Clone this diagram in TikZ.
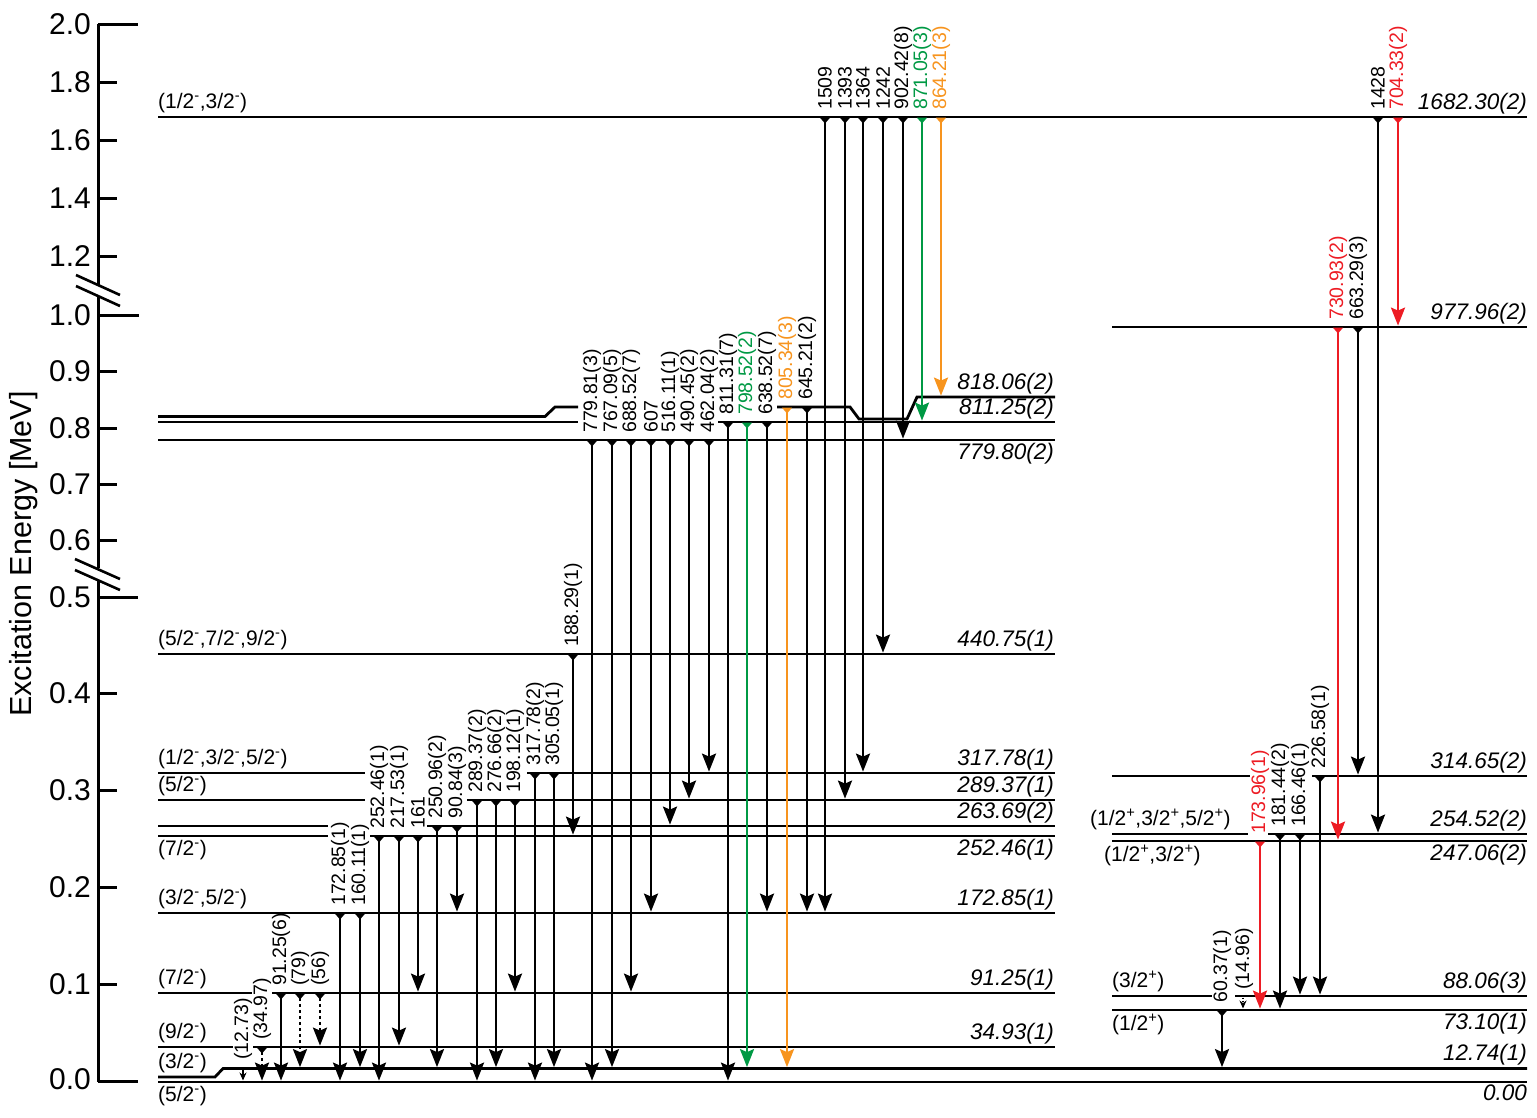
\documentclass[tikz,border=0pt]{standalone}
\usepackage{fontspec}
\setmainfont{Liberation Sans}
\usetikzlibrary{arrows.meta}
\definecolor{ggreen}{RGB}{0,153,68}
\definecolor{gorange}{RGB}{247,148,30}
\definecolor{gred}{RGB}{237,28,36}
\newcommand{\gam}[5][]{%
  \draw[trans,#1] (#2,#3+0.5) -- (#2,#4-1.4);
  \node[glab,#1] at (#2,#3-7) {#5};}
\newcommand{\supm}{\textsuperscript{-}}
\newcommand{\supp}{\textsuperscript{+}}
\begin{document}
\begin{tikzpicture}[x=1pt,y=-1pt,
  lvl/.style={line width=2.8pt},
  axisline/.style={line width=3pt},
  trans/.style={line width=2.6pt,
    {Triangle[reversed,width=10pt,length=6pt]}-{Stealth[width=14pt,length=18pt,inset=3pt]}},
  glab/.style={font=\fontsize{19.5}{20}\selectfont,inner sep=0pt,rotate=90,anchor=west},
  elab/.style={font=\fontsize{22.5}{24}\selectfont\itshape,inner sep=0pt},
  slab/.style={font=\fontsize{21}{24}\selectfont,inner sep=0pt},
  ticklab/.style={font=\fontsize{30}{32}\selectfont,inner sep=0pt,anchor=east},
  dotarrow/.style={dash pattern=on 3.5pt off 2.5pt},
  smallarrow/.style={line width=1.4pt,-{Stealth[width=7pt,length=8pt]}}
]
\useasboundingbox (0,0) rectangle (1537,1117);

% ---------------- axis ----------------
\draw[axisline] (98,24) -- (98,285) (98,296) -- (98,568) (98,580) -- (98,1082);
\draw[axisline] (98,24) -- (138,24) (98,315) -- (139,315) (98,597) -- (138,597) (98,1081) -- (138,1081);
\foreach \yy in {82,140,198,256,371,428,484,540,693,790,887,984}
  \draw[axisline] (98,\yy) -- (117,\yy);
\draw[line width=2.6pt] (76,275) -- (120,295) (76,286) -- (120,306);
\draw[line width=2.6pt] (75,559) -- (120,579) (75,570) -- (120,590);
\node[ticklab] (t20) at (91,24) {2.0};
\node[ticklab] (t18) at (91,82) {1.8};
\node[ticklab] (t16) at (91,140) {1.6};
\node[ticklab] (t14) at (91,198) {1.4};
\node[ticklab] (t12) at (91,256) {1.2};
\node[ticklab] (t10) at (91,315) {1.0};
\node[ticklab] (t09) at (91,371) {0.9};
\node[ticklab] (t08) at (91,428) {0.8};
\node[ticklab] (t07) at (91,484) {0.7};
\node[ticklab] (t06) at (91,540) {0.6};
\node[ticklab] (t05) at (91,597) {0.5};
\node[ticklab] (t04) at (91,693) {0.4};
\node[ticklab] (t03) at (91,790) {0.3};
\node[ticklab] (t02) at (91,887) {0.2};
\node[ticklab] (t01) at (91,984) {0.1};
\node[ticklab] (t00) at (91,1079) {0.0};
\node[font=\fontsize{30.5}{32}\selectfont,rotate=90,inner sep=0pt] (ytitle) at (24,554) {Excitation Energy [MeV]};

% ---------------- levels (left) ----------------
\draw[lvl] (158,117) -- (1527,117);
\draw[lvl] (158,416.5) -- (545,416.5) -- (555,407) -- (578,407);
\draw[lvl] (777,407) -- (850,407) -- (859,419) -- (907,419) -- (917,397) -- (1055,397);
\draw[lvl] (158,422) -- (578,422) (718,422) -- (1055,422);
\draw[lvl] (158,440) -- (1055,440);
\draw[lvl] (158,654) -- (1055,654);
\draw[lvl] (158,773) -- (365,773) (527,773) -- (1055,773);
\draw[lvl] (158,800) -- (365,800) (467,800) -- (1055,800);
\draw[lvl] (158,826) -- (328,826) (427,826) -- (1055,826);
\draw[lvl] (158,836) -- (328,836) (370,836) -- (1055,836);
\draw[lvl] (158,913) -- (1055,913);
\draw[lvl] (158,993) -- (252,993) (272,993) -- (1055,993);
\draw[lvl] (158,1047) -- (233,1047) (253,1047) -- (1055,1047);
\draw[lvl] (158,1077) -- (215,1077) -- (223,1068.5) -- (1527,1068.5);
\draw[lvl] (158,1082) -- (1527,1082);
% ---------------- levels (right) ----------------
\draw[lvl] (1112,327) -- (1527,327);
\draw[lvl] (1112,776) -- (1250,776) (1312,776) -- (1527,776);
\draw[lvl] (1112,834) -- (1248,834) (1268,834) -- (1527,834);
\draw[lvl] (1112,841) -- (1527,841);
\draw[lvl] (1112,996) -- (1212,996) (1235,996) -- (1527,996);
\draw[lvl] (1112,1010) -- (1527,1010);

% ---------------- energy labels ----------------
\node[elab,anchor=south east] (e1682) at (1527,114) {1682.30(2)};
\node[elab,anchor=south east] (e977) at (1527,324) {977.96(2)};
\node[elab,anchor=south east] (e818) at (1054,394) {818.06(2)};
\node[elab,anchor=south east] (e811) at (1054,419) {811.25(2)};
\node[elab,anchor=north east] (e779) at (1054,443) {779.80(2)};
\node[elab,anchor=south east] (e440) at (1054,651) {440.75(1)};
\node[elab,anchor=south east] (e317) at (1054,770) {317.78(1)};
\node[elab,anchor=south east] (e289) at (1054,797) {289.37(1)};
\node[elab,anchor=south east] (e263) at (1054,823) {263.69(2)};
\node[elab,anchor=north east] (e252) at (1054,839) {252.46(1)};
\node[elab,anchor=south east] (e172) at (1054,910) {172.85(1)};
\node[elab,anchor=south east] (e91) at (1054,990) {91.25(1)};
\node[elab,anchor=south east] (e34) at (1054,1044) {34.93(1)};
\node[elab,anchor=south east] (e314) at (1527,773) {314.65(2)};
\node[elab,anchor=south east] (e254) at (1527,831) {254.52(2)};
\node[elab,anchor=north east] (e247) at (1527,844) {247.06(2)};
\node[elab,anchor=south east] (e88) at (1527,993) {88.06(3)};
\node[elab,anchor=north east] (e73) at (1527,1013) {73.10(1)};
\node[elab,anchor=south east] (e12) at (1527,1065.5) {12.74(1)};
\node[elab,anchor=north east] (e0) at (1527,1085) {0.00};

% ---------------- spin labels ----------------
\node[slab,anchor=south west] (s1682) at (158,113) {(1/2\supm,3/2\supm)};
\node[slab,anchor=south west] (s440) at (158,650) {(5/2\supm,7/2\supm,9/2\supm)};
\node[slab,anchor=south west] (s317) at (158,769) {(1/2\supm,3/2\supm,5/2\supm)};
\node[slab,anchor=south west] (s289) at (158,796) {(5/2\supm)};
\node[slab,anchor=north west] (s252) at (158,840) {(7/2\supm)};
\node[slab,anchor=south west] (s172) at (158,909) {(3/2\supm,5/2\supm)};
\node[slab,anchor=south west] (s91) at (158,989) {(7/2\supm)};
\node[slab,anchor=south west] (s34) at (158,1043) {(9/2\supm)};
\node[slab,anchor=south west] (s12) at (158,1073) {(3/2\supm)};
\node[slab,anchor=north west] (s0) at (158,1086) {(5/2\supm)};
\node[slab,anchor=south west] (s254) at (1090,830) {(1/2\supp,3/2\supp,5/2\supp)};
\node[slab,anchor=north west] (s247) at (1104,845) {(1/2\supp,3/2\supp)};
\node[slab,anchor=south west] (s88) at (1112,992) {(3/2\supp)};
\node[slab,anchor=north west] (s73) at (1112,1014) {(1/2\supp)};

% ---------------- transitions ----------------
% from 1682.30
\gam{825}{117}{913}{1509}
\gam{845}{117}{800}{1393}
\gam{863}{117}{773}{1364}
\gam{883}{117}{654}{1242}
\gam{903}{117}{440}{902.42(8)}
\gam[ggreen]{922}{117}{422}{871.05(3)}
\gam[gorange]{941}{117}{397}{864.21(3)}
\gam{1378}{117}{834}{1428}
\gam[gred]{1398}{117}{327}{704.33(2)}
% from 977.96
\gam[gred]{1338}{327}{841}{730.93(2)}
\gam{1358}{327}{776}{663.29(3)}
% from 818.06
\gam[gorange]{787}{407}{1068.5}{805.34(3)}
\gam{807}{407}{913}{645.21(2)}
% from 811.25
\gam{728}{422}{1082}{811.31(7)}
\gam[ggreen]{747}{422}{1068.5}{798.52(2)}
\gam{767}{422}{913}{638.52(7)}
% from 779.80
\gam{592}{440}{1082}{779.81(3)}
\gam{612}{440}{1068.5}{767.09(5)}
\gam{631}{440}{993}{688.52(7)}
\gam{651}{440}{913}{607}
\gam{670}{440}{826}{516.11(1)}
\gam{689}{440}{800}{490.45(2)}
\gam{709}{440}{773}{462.04(2)}
% from 440.75
\gam{573}{654}{836}{188.29(1)}
% from 317.78
\gam{535}{773}{1082}{317.78(2)}
\gam{554}{773}{1068.5}{305.05(1)}
% from 289.37
\gam{477}{800}{1082}{289.37(2)}
\gam{496}{800}{1068.5}{276.66(2)}
\gam{515}{800}{993}{198.12(1)}
% from 263.69
\gam{437}{826}{1068.5}{250.96(2)}
\gam{457}{826}{913}{90.84(3)}
% from 252.46
\gam{379}{836}{1082}{252.46(1)}
\gam{399}{836}{1047}{217.53(1)}
\gam{418}{836}{993}{161}
% from 172.85
\gam{340}{913}{1082}{172.85(1)}
\gam{360}{913}{1068.5}{160.11(1)}
% from 91.25
\gam{281}{993}{1082}{91.25(6)}
\gam[dotarrow]{300}{993}{1068.5}{(79)}
\gam[dotarrow]{320}{993}{1047}{(56)}
% from 34.93
\gam[dotarrow]{262}{1047}{1082}{(34.97)}
% from 12.74
\draw[smallarrow] (243,1069.5) -- (243,1080.5);
\node[glab] (g1273) at (243,1060) {(12.73)};
% right side
\gam{1320}{776}{996}{226.58(1)}
\gam{1280}{834}{1010}{181.44(2)}
\gam{1300}{834}{996}{166.46(1)}
\gam[gred]{1260}{841}{1010}{173.96(1)}
\draw[smallarrow,dash pattern=on 1.5pt off 1.5pt] (1243,997.5) -- (1243,1008.5);
\node[glab] (g1496) at (1244,990) {(14.96)};
\gam{1222}{1010}{1068.5}{60.37(1)}
\end{tikzpicture}
\end{document}
